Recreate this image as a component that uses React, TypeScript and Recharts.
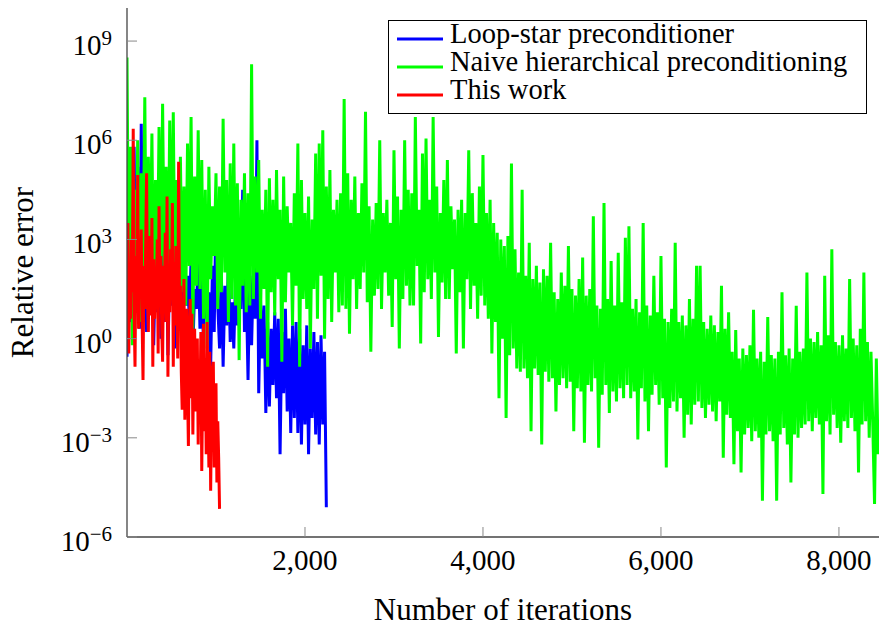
import { LineChart, Line, XAxis, YAxis } from "recharts";

const SERIES_NAMES = [
  "Loop-star preconditioner",
  "Naive hierarchical preconditioning",
  "This work",
];
const SERIES_COLORS = ["#0000ff", "#00ff00", "#ff0000"];

const X_TICKS = [2000, 4000, 6000, 8000];
const Y_TICKS = [1e-6, 1e-3, 1, 1e3, 1e6, 1e9];

// log10 of the relative error, one value every STEP iterations
const LOOP_STAR_STEP = 20;
const loopStarLog10 = [
  -0.55, 2.0, 0.5, 3.2, 5.8, 1.0, 5.2, 0.3, 6.5, 1.5, 3.8, 0.2, 3.0, 1.2, 4.0, -0.2, 2.5, 0.8, 3.4, 0.0,
  2.8, 0.5, 3.5, -0.5, 2.2, 1.0, 3.0, -0.3, 1.8, 0.4, 2.6, 0.0, 3.2, 1.0, 1.9, 0.6, 2.4, -0.3, 1.5, 0.9,
  2.5, 0.3, 1.8, -0.2, 2.9, 0.6, 1.4, -0.85, 2.2, 0.2, 4.2, 1.0, -0.3, 2.0, -0.85, 1.6, 0.4, 2.3, -0.1, 1.1,
  -0.3, 1.8, 0.4, 2.5, 0.9, 4.5, 0.2, 1.6, -1.25, 1.9, -0.2, 2.1, 0.6, 6.0, -1.65, 1.2, -0.6, 1.0, -2.25, 0.5,
  -2.05, 0.3, -1.4, 0.8, -1.8, 0.6, -3.5, 0.2, -1.65, 0.9, -2.2, 0.0, -2.85, 0.4, -2.4, 0.5, -2.85, 0.3, -3.2, -0.2,
  -2.6, 0.4, -3.5, -0.3, -2.4, 0.2, -2.9, -0.1, -3.2, 0.1, -2.6, -0.4, -5.1,
];

const NAIVE_STEP = 20;
const naiveLog10 = [
  8.5, 0.8, 5.8, -0.2, 4.5, 1.2, 6.0, 0.5, 5.0, 2.0, 7.3, 1.0, 5.5, 2.2, 6.2, 0.6, 4.8, 1.5, 6.4, 2.0,
  7.1, 1.8, 5.2, 0.9, 6.6, 2.0, 6.85, 1.2, 4.8, 0.4, 5.5, 1.4, 4.6, 1.0, 5.9, 2.2, 6.7, 0.3, 4.9, 1.6,
  6.3, 1.5, 5.4, 0.6, 4.5, -0.3, 5.2, 1.8, 4.0, 2.5, 5.0, 0.9, 4.6, 1.4, 6.65, 2.0, 4.8, 0.5, 5.3, 1.2,
  5.9, 1.0, 4.7, -0.65, 4.2, 1.6, 5.0, 0.8, 4.4, 1.0, 8.3, 1.2, 4.9, 2.0, 5.4, 0.6, 3.9, 1.5, 4.5, -0.85,
  4.85, 1.4, 4.2, 0.7, 5.1, 1.8, 3.9, -0.7, 4.9, 1.1, 4.0, 2.0, 3.5, 0.4, 4.4, 1.6, 5.9, -0.85, 4.8, 1.2,
  3.8, 0.9, 4.3, -0.3, 3.6, 1.5, 5.6, 0.6, 5.9, 1.9, 6.3, 0.0, 4.6, 1.2, 5.1, 0.5, 3.9, 2.0, 4.2, 0.8,
  4.4, 1.0, 7.25, 0.9, 5.0, 0.15, 4.2, 1.8, 4.9, 0.9, 3.8, 1.5, 4.7, 2.0, 6.86, 1.1, 4.0, -0.4, 3.6, 1.3,
  4.1, 1.5, 6.0, 0.9, 3.8, 2.0, 4.2, 1.3, 3.5, 0.35, 5.7, 1.8, 4.3, -0.3, 3.9, 1.2, 6.0, 1.6, 4.5, 1.0,
  4.4, 1.0, 6.7, 2.2, 3.9, -0.15, 5.6, 1.4, 6.05, 1.8, 4.2, 1.2, 6.7, 2.0, 4.6, 0.05, 3.8, 1.7, 4.8, 1.2,
  5.4, 1.2, 4.0, 2.1, 3.6, -0.45, 3.9, 1.4, 4.2, -0.3, 3.8, 1.8, 5.7, 0.9, 4.4, 1.6, 3.5, 0.6, 4.6, 1.3,
  5.55, 1.0, 3.8, 0.6, 4.2, -0.45, 3.5, 0.5, 3.2, -1.8, 3.0, 0.0, 2.8, -2.4, 3.1, -0.5, 5.3, -0.3, 2.7, -0.9,
  2.0, -1.0, 4.5, -0.9, 1.9, -1.2, 2.9, -2.8, 1.8, -0.9, 2.2, -1.1, 1.7, -3.2, 2.1, -1.0, 1.9, -1.3, 2.9, -1.2,
  1.4, -2.2, 1.2, -1.4, 2.0, -1.2, 1.6, -1.5, 2.8, -1.3, 1.5, -2.8, 1.3, -1.5, 1.8, -1.6, 2.45, -3.15, 1.3, -1.4,
  1.5, -1.6, 3.7, -1.2, 1.0, -3.3, 0.9, -1.7, 4.1, -1.4, 1.2, -2.25, 2.35, -1.6, 1.0, -1.9, 2.6, -1.5, 1.1, -1.8,
  3.05, -1.4, 3.4, -1.8, 0.9, -1.6, 1.2, -3.05, 0.8, -1.5, 3.5, -1.9, 1.0, -2.8, 0.7, -1.7, 1.9, -1.4, 0.8, -2.0,
  2.5, -1.8, 0.6, -3.9, 0.5, -2.1, 0.9, -1.9, 2.9, -2.2, 0.5, -1.8, 0.7, -3.0, 0.4, -2.3, 1.2, -2.6, 0.6, -2.0,
  2.2, -1.9, 2.2, -2.1, 0.5, -2.4, 0.3, -2.0, 0.7, -2.2, 0.4, -2.5, 0.2, -1.9, 1.6, -3.6, 0.3, -2.3, 0.8, -2.4,
  -0.4, -3.8, 0.26, -2.8, -0.6, -4.05, -0.3, -2.9, -0.5, -2.7, -0.2, -3.1, 0.87, -2.8, -0.6, -3.0, -0.4, -4.9, -0.7, -2.9,
  0.65, -2.8, -0.5, -3.1, -0.6, -4.9, -0.4, -2.9, 1.4, -2.7, -0.5, -3.2, -0.3, -4.35, -0.6, -2.9, 0.99, -3.0, -0.4, -2.7,
  -0.3, -2.6, 2.0, -2.5, 0.0, -2.8, -0.1, -2.4, 0.2, -2.6, -0.2, -4.7, 1.9, -2.5, 0.1, -2.9, 2.7, -2.3, -0.1, -2.7,
  -0.2, -3.15, 0.1, -2.5, -0.3, -2.7, 1.8, -2.4, 0.0, -2.8, -0.2, -4.05, 0.3, -2.6, 2.0, -2.5, -0.1, -3.0, -0.4, -2.6,
  -5.0, -0.6, -3.5,
];

const THIS_WORK_STEP = 10;
const thisWorkLog10 = [
  1.1, 3.5, -0.45, 2.0, 0.6, 3.0, 1.4, 6.35, 0.8, -0.85,
  2.5, 1.0, 4.95, 0.3, 2.8, 1.6, 3.3, 0.5, -1.25, 2.2,
  0.9, 2.9, 5.0, 1.2, 0.2, 3.1, 1.8, 0.7, 3.65, -0.85,
  2.4, 0.6, 2.0, 1.3, 3.0, -0.45, 4.0, 1.0, 2.5, 0.3,
  -0.7, 2.2, 1.1, 3.2, 0.5, 4.3, -1.15, 1.9, 0.8, 2.7,
  1.5, 4.1, -0.85, 2.3, 0.4, 2.8, 1.2, -0.6, 5.35, 0.9,
  1.6, -1.0, -2.15, 0.5, 1.8, -2.45, -0.2, 0.9, -1.5, -3.25,
  0.2, 1.2, -1.8, 0.75, -2.9, -0.5, 0.3, -2.2, -1.0, 0.0,
  -3.2, -0.9, -2.0, 0.2, -4.0, -1.5, 0.45, -2.8, -0.6, -3.5,
  0.5, -1.8, -3.9, -0.4, -4.6, -2.0, -1.0, -0.7, -3.9, -2.2,
  -1.35, -4.35, -2.5, -3.6, -5.15,
];

const toPoints = (step: number, logs: number[]) =>
  logs.map((e, i) => ({ it: i * step, err: Math.pow(10, e) }));

const seriesData = [
  toPoints(LOOP_STAR_STEP, loopStarLog10),
  toPoints(NAIVE_STEP, naiveLog10),
  toPoints(THIS_WORK_STEP, thisWorkLog10),
];

const FONT = '"Liberation Serif", "Times New Roman", serif';

function YTick(props: any) {
  const { x, y, payload } = props;
  const exp = Math.round(Math.log10(payload.value));
  const sup = exp < 0 ? "\u2212" + Math.abs(exp) : String(exp);
  return (
    <text x={x} y={y + 14} textAnchor="end" fontSize={29} fill="#000" fontFamily={FONT}>
      10
      <tspan dy={-10} fontSize={21}>
        {sup}
      </tspan>
    </text>
  );
}

function XTick(props: any) {
  const { x, y, payload } = props;
  return (
    <text x={x} y={y} textAnchor="middle" fontSize={29} fill="#000" fontFamily={FONT}>
      {payload.value.toLocaleString("en-US")}
    </text>
  );
}

const NoTick = () => <g />;

function LegendBox() {
  return (
    <svg
      width={479}
      height={130}
      style={{ position: "absolute", left: 388, top: 0, overflow: "visible" }}
    >
      <rect x={0.5} y={20.5} width={478} height={93} fill="#fff" stroke="#000" strokeWidth={1} />
      {SERIES_NAMES.map((name, i) => (
        <g key={name}>
          <line
            x1={9}
            x2={55}
            y1={39 + i * 28}
            y2={39 + i * 28}
            stroke={SERIES_COLORS[i]}
            strokeWidth={3}
          />
          <text x={62} y={43 + i * 28} fontSize={28.5} fill="#000" fontFamily={FONT}>
            {name}
          </text>
        </g>
      ))}
    </svg>
  );
}

export default function App() {
  return (
    <div
      style={{
        position: "absolute",
        left: 0,
        top: 0,
        width: 881,
        height: 628,
        background: "#fff",
        fontFamily: FONT,
      }}
    >
      <LineChart width={881} height={628} margin={{ top: 8, right: 2, left: 0, bottom: 0 }}>
        <XAxis
          dataKey="it"
          type="number"
          domain={[0, 8450]}
          allowDataOverflow
          ticks={X_TICKS}
          interval={0}
          height={91}
          tickSize={-10}
          tickMargin={43}
          tick={<XTick />}
          axisLine={{ stroke: "#444", strokeWidth: 1.3 }}
          tickLine={{ stroke: "#888" }}
          label={{
            value: "Number of iterations",
            position: "insideBottom",
            offset: 8,
            fontSize: 31,
            fill: "#000",
            fontFamily: FONT,
          }}
        />
        <XAxis
          xAxisId="top"
          orientation="top"
          type="number"
          domain={[0, 8450]}
          allowDataOverflow
          ticks={X_TICKS}
          interval={0}
          height={0}
          tickSize={-10}
          tick={<NoTick />}
          axisLine={{ stroke: "#444", strokeWidth: 1.3 }}
          tickLine={{ stroke: "#888" }}
        />
        <YAxis
          scale="log"
          type="number"
          domain={[1e-6, 1e10]}
          allowDataOverflow
          ticks={Y_TICKS}
          interval={0}
          width={127}
          tickSize={-10}
          tickMargin={25}
          tick={<YTick />}
          axisLine={{ stroke: "#444", strokeWidth: 1.3 }}
          tickLine={{ stroke: "#888" }}
          label={{
            value: "Relative error",
            angle: -90,
            position: "insideLeft",
            offset: 22,
            fontSize: 31,
            fill: "#000",
            fontFamily: FONT,
            style: { textAnchor: "middle" },
          }}
        />
        <YAxis
          yAxisId="right"
          orientation="right"
          scale="log"
          type="number"
          domain={[1e-6, 1e10]}
          allowDataOverflow
          ticks={Y_TICKS}
          interval={0}
          width={0}
          tickSize={-10}
          tick={<NoTick />}
          axisLine={{ stroke: "#444", strokeWidth: 1.3 }}
          tickLine={{ stroke: "#888" }}
        />
        {seriesData.map((d, i) => (
          <Line
            key={SERIES_NAMES[i]}
            data={d}
            dataKey="err"
            name={SERIES_NAMES[i]}
            type="linear"
            stroke={SERIES_COLORS[i]}
            strokeWidth={3}
            dot={false}
            activeDot={false}
            isAnimationActive={false}
          />
        ))}
      </LineChart>
      <LegendBox />
    </div>
  );
}
